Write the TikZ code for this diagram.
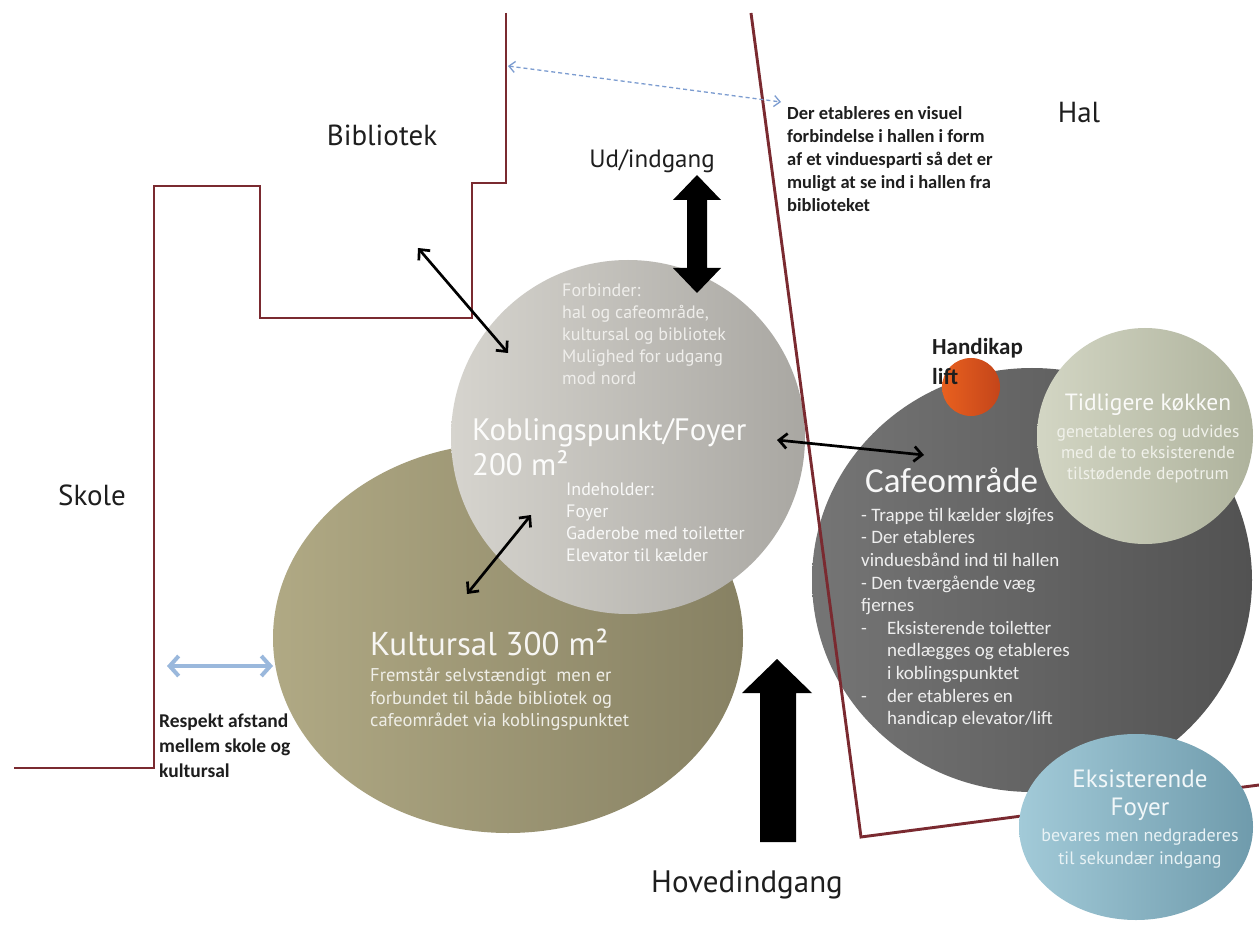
\documentclass[tikz,border=0pt]{standalone}
\usepackage{fontspec}
\setmainfont{PT Sans}
\newfontfamily\calib{Carlito}
\usetikzlibrary{arrows.meta,shapes.geometric}
\definecolor{wallc}{HTML}{7A2A30}
\definecolor{grA}{HTML}{D6D4CE}
\definecolor{grB}{HTML}{A9A7A2}
\definecolor{olA}{HTML}{B0A984}
\definecolor{olB}{HTML}{878163}
\definecolor{cfA}{HTML}{757575}
\definecolor{cfB}{HTML}{525252}
\definecolor{tkA}{HTML}{D3D6C4}
\definecolor{tkB}{HTML}{AEB29C}
\definecolor{orA}{HTML}{E8601F}
\definecolor{orB}{HTML}{C4451A}
\definecolor{blA}{HTML}{A2CAD8}
\definecolor{blB}{HTML}{6F9BAC}
\definecolor{lblue}{HTML}{9AB8DC}
\definecolor{dblue}{HTML}{7C9CD0}
\definecolor{txtdark}{HTML}{1E1E1E}
\tikzset{
  blob/.style={ellipse, inner sep=0pt, draw=none},
  wall/.style={draw=wallc, line width=2.9pt, line join=miter},
  thinarrow/.style={draw=black, line width=2.7pt, {Straight Barb[length=8pt,width=15pt]}-{Straight Barb[length=8pt,width=15pt]}},
  bigarrow/.style={fill=black, draw=none},
  label/.style={inner sep=0pt, text=txtdark},
  intext/.style={inner sep=0pt, align=left, anchor=north west},
}
\begin{document}
\begin{tikzpicture}[x=1pt,y=-1pt]
\useasboundingbox (0,0) rectangle (1259,925);
\fill[white] (0,0) rectangle (1259,925);

% circles
\node[blob, minimum width=470pt, minimum height=390pt, left color=olA, right color=olB] (kultur) at (508,638) {};
\node[blob, minimum width=354pt, minimum height=354pt, left color=grA, right color=grB] (kobling) at (628,437) {};
\node[blob, minimum width=440pt, minimum height=424pt, left color=cfA, right color=cfB] (cafe) at (1032,580) {};
\node[blob, minimum width=216pt, minimum height=216pt, left color=tkA, right color=tkB] (kokken) at (1145,436) {};
\node[blob, minimum width=58pt, minimum height=58pt, left color=orA, right color=orB] (lift) at (971,387) {};

% walls
\coordinate (w1) at (506,13);
\coordinate (w2) at (506,183);
\coordinate (w3) at (472,183);
\coordinate (w4) at (472,318);
\coordinate (w5) at (260,318);
\coordinate (w6) at (260,186);
\coordinate (w7) at (154,186);
\coordinate (w8) at (154,768);
\coordinate (w9) at (14,768);
\draw[wall] (w1) -- (w2) -- (w3) -- (w4) -- (w5) -- (w6) -- (w7) -- (w8) -- (w9);
\coordinate (h1) at (751,13);
\coordinate (h2) at (861,837);
\coordinate (h3) at (1259,785);
\draw[wall] (h1) -- (h2) -- (h3);

\node[blob, minimum width=234pt, minimum height=186pt, left color=blA, right color=blB] (foyer) at (1136,827) {};

% big arrows
\draw[bigarrow] (697,175) -- (721,200) -- (707,200) -- (707,268) -- (721,268) -- (697,293) -- (673,268) -- (687,268) -- (687,200) -- (673,200) -- cycle;
\draw[bigarrow] (777,659) -- (812,693) -- (796,693) -- (796,842) -- (760,842) -- (760,693) -- (742,693) -- cycle;

% thin arrows
\coordinate (a1s) at (418,248);
\coordinate (a1e) at (508,353);
\coordinate (a2s) at (531,515);
\coordinate (a2e) at (467,594);
\coordinate (a3s) at (777,440);
\coordinate (a3e) at (924,455);
\draw[thinarrow] (a1s) -- (a1e);
\draw[thinarrow] (a2s) -- (a2e);
\draw[thinarrow] (a3s) -- (a3e);
\coordinate (b1) at (167,666);
\coordinate (b2) at (273,666);
\draw[draw=lblue, line width=4pt, {Straight Barb[length=9pt,width=20pt]}-{Straight Barb[length=9pt,width=20pt]}] (b1) -- (b2);
\coordinate (d1) at (508,66);
\coordinate (d2) at (781,102);
\draw[draw=dblue, line width=1.3pt, dash pattern=on 4pt off 3pt, {Straight Barb[length=6pt,width=11pt]}-{Straight Barb[length=6pt,width=11pt]}] (d1) -- (d2);

% plain labels
\node[label, font=\fontsize{29}{34}\selectfont] (bib) at (382,135) {Bibliotek};
\node[label, font=\fontsize{29}{34}\selectfont] (skole) at (92,495) {Skole};
\node[label, font=\fontsize{29}{34}\selectfont] (hal) at (1079,113) {Hal};
\node[label, font=\fontsize{25}{30}\selectfont] (udind) at (652,161) {Ud/indgang};
\node[label, font=\fontsize{31}{36}\selectfont] (hoved) at (747,885) {Hovedindgang};

\node[label, intext, font=\calib\bfseries\fontsize{18.5}{23}\selectfont] (visuel) at (787,106)
 {Der etableres en visuel\\forbindelse i hallen i form\\af et vinduesparti så det er\\muligt at se ind i hallen fra\\biblioteket};
\node[label, intext, font=\calib\bfseries\fontsize{19.5}{25}\selectfont] (respekt) at (159,714)
 {Respekt afstand\\mellem skole og\\kultursal};
\node[label, intext, font=\calib\bfseries\fontsize{23}{30}\selectfont] (handikap) at (932,338)
 {Handikap\\lift};

% Koblingspunkt texts
\node[intext, text=white!60!grA, font=\fontsize{18}{22}\selectfont] (forb) at (562,284)
 {Forbinder:\\hal og cafeområde,\\kultursal og bibliotek\\Mulighed for udgang\\mod nord};
\node[intext, text=white!92!grA, font=\fontsize{31}{35}\selectfont] (kobtitle) at (472,418)
 {Koblingspunkt/Foyer\\200 m²};
\node[intext, text=white!85!grA, font=\fontsize{18}{22}\selectfont] (indeh) at (566,483)
 {Indeholder:\\Foyer\\Gaderobe med toiletter\\Elevator til kælder};

% Kultursal texts
\node[intext, text=white!90!olA, font=\fontsize{33}{38}\selectfont] (kultitle) at (370,629)
 {Kultursal 300 m²};
\node[intext, text=white!80!olA, font=\fontsize{18.5}{22.5}\selectfont] (kulbody) at (370,668)
 {Fremstår selvstændigt\ \ men er\\forbundet til både bibliotek og\\cafeområdet via koblingspunktet};

% Cafe texts
\node[intext, text=white!94!cfA, font=\calib\fontsize{35}{40}\selectfont] (caftitle) at (865,468)
 {Cafeområde};
\node[intext, text=white!88!cfA, font=\calib\fontsize{19}{22.6}\selectfont] (cafbody) at (861,508)
 {- Trappe til kælder sløjfes\\- Der etableres\\vinduesbånd ind til hallen\\- Den tværgående væg\\fjernes\\\makebox[26pt][l]{-}Eksisterende toiletter\\\hspace*{26pt}nedlægges og etableres\\\hspace*{26pt}i koblingspunktet\\\makebox[26pt][l]{-}der etableres en\\\hspace*{26pt}handicap elevator/lift};

% Tidligere kokken
\node[inner sep=0pt, text=white!88!tkA, font=\fontsize{23.5}{28}\selectfont] (koktitle) at (1148,405) {Tidligere køkken};
\node[inner sep=0pt, anchor=north, align=center, text=white!65!tkA, font=\fontsize{17.5}{21}\selectfont] (kokbody) at (1148,425)
 {genetableres og udvides\\med de to eksisterende\\tilstødende depotrum};

% Eksisterende foyer
\node[inner sep=0pt, anchor=north, align=center, text=white!85!blA, font=\fontsize{25}{28}\selectfont] (foytitle) at (1140,770)
 {Eksisterende\\Foyer};
\node[inner sep=0pt, anchor=north, align=center, text=white!75!blA, font=\fontsize{18}{23}\selectfont] (foybody) at (1140,829)
 {bevares men nedgraderes\\til sekundær indgang};
\end{tikzpicture}
\end{document}
